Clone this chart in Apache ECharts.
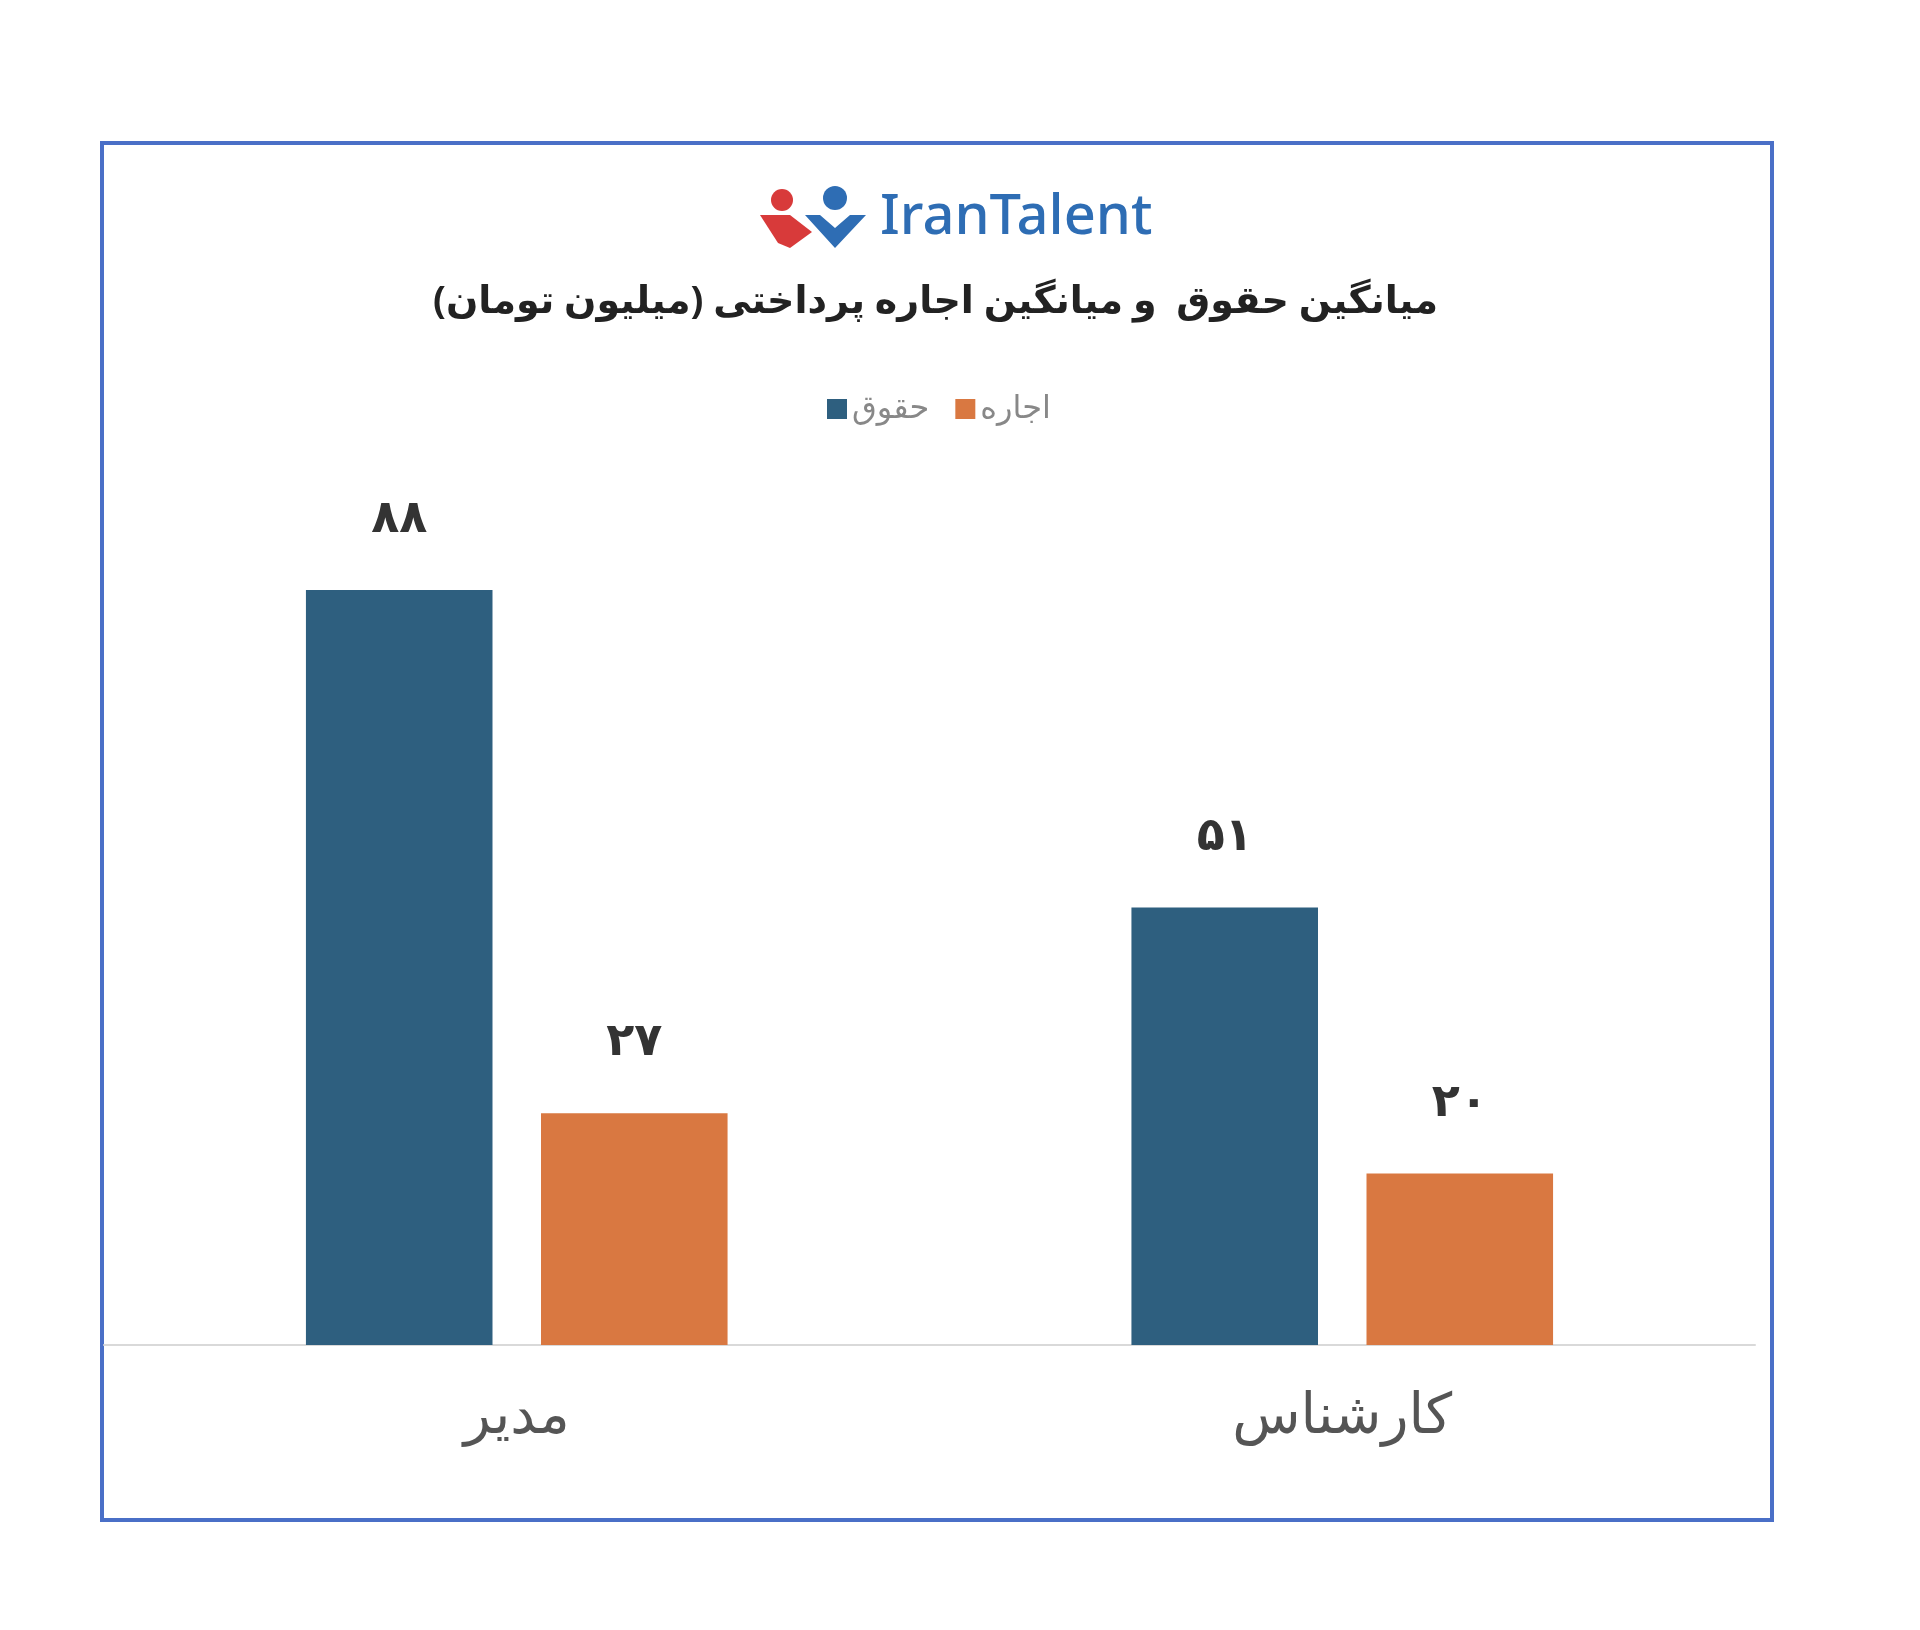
<!DOCTYPE html>
<html><head><meta charset="utf-8">
<script src="https://cdn.jsdelivr.net/npm/echarts@6/dist/echarts.min.js"></script>
<style>html,body{margin:0;background:#fff}#c{width:1920px;height:1630px}</style>
</head><body><div id="c"></div>
<script>
const categories = ['مدیر', 'کارشناس'];
const salary = [88, 51];
const rent = [27, 20];
const seriesNames = ['حقوق', 'اجاره'];
const fa = v => String(v).replace(/\d/g, d => '۰۱۲۳۴۵۶۷۸۹'[d]);
const font = '"Noto Sans", "DejaVu Sans", sans-serif';
const chart = echarts.init(document.getElementById('c'));
chart.setOption({
  backgroundColor: '#fff',
  animation: false,
  title: { text: 'میانگین حقوق  و میانگین اجاره پرداختی (میلیون تومان)', left: 428, top: 278,
    textStyle: { fontFamily: font, fontSize: 38, fontWeight: 'bold', color: '#222' } },
  legend: { data: seriesNames, top: 388, left: 822, icon: 'rect', itemWidth: 20, itemHeight: 20, itemGap: 26,
    textStyle: { fontFamily: font, fontSize: 32, color: '#888' } },
  grid: { left: 104, right: 165, top: 487, bottom: 285 },
  xAxis: { type: 'category', data: categories,
    axisLine: { lineStyle: { color: '#d9d9d9', width: 2 } }, axisTick: { show: false },
    axisLabel: { fontFamily: font, fontSize: 56, color: '#555', margin: 44 } },
  yAxis: { type: 'value', min: 0, max: 100, show: false },
  series: [
    { name: seriesNames[0], type: 'bar', data: salary, barWidth: '22.6%', barGap: '26%', itemStyle: { color: '#2E5F7F' },
      label: { show: true, position: 'top', distance: 48, formatter: p => fa(p.value), fontFamily: font, fontSize: 46, fontWeight: 'bold', color: '#333' } },
    { name: seriesNames[1], type: 'bar', data: rent, barWidth: '22.6%', itemStyle: { color: '#D97841' },
      label: { show: true, position: 'top', distance: 48, formatter: p => fa(p.value), fontFamily: font, fontSize: 46, fontWeight: 'bold', color: '#333' } }
  ],
  graphic: [
    { type: 'rect', shape: { x: 102, y: 143, width: 1670, height: 1377 }, style: { fill: 'none', stroke: '#4A6FC7', lineWidth: 4 } },
    { type: 'circle', shape: { cx: 782, cy: 200, r: 11 }, style: { fill: '#D83A3A' } },
    { type: 'circle', shape: { cx: 835, cy: 198, r: 12 }, style: { fill: '#2E6DB4' } },
    { type: 'polygon', shape: { points: [[760,215],[790,215],[812,232],[790,248],[778,243]] }, style: { fill: '#D83A3A' } },
    { type: 'polygon', shape: { points: [[805,215],[820,215],[835,228],[850,215],[866,215],[835,248]] }, style: { fill: '#2E6DB4' } },
    { type: 'text', left: 880, top: 190, style: { text: 'IranTalent', font: '500 56px ' + font, fill: '#2E6DB4' } }
  ]
});
</script></body></html>
